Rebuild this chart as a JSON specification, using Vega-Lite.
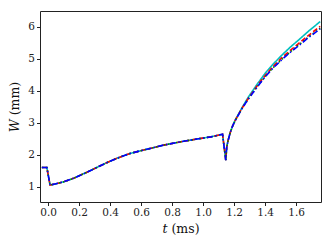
{
  "$schema": "https://vega.github.io/schema/vega-lite/v6.json",
  "autosize": "none",
  "width": 281,
  "height": 191,
  "padding": {"left": 40, "top": 11, "right": 11, "bottom": 47},
  "background": "white",
  "config": {
    "view": {"stroke": "#222", "strokeWidth": 1},
    "font": "DejaVu Serif",
    "axis": {
      "labelFont": "DejaVu Serif",
      "titleFont": "DejaVu Serif",
      "labelFontSize": 10.5,
      "titleFontSize": 12.5,
      "labelColor": "#222",
      "titleColor": "#111",
      "titleFontWeight": "normal",
      "grid": false,
      "domain": false,
      "tickColor": "#222",
      "tickSize": 3.5,
      "labelPadding": 2
    }
  },
  "datasets": {
    "d": [
      {"s": "c", "t": -0.04, "W": 1.6}, {"s": "c", "t": -0.008, "W": 1.6}, {"s": "c", "t": 0.013, "W": 1.05}, {"s": "c", "t": 0.05, "W": 1.09}, {"s": "c", "t": 0.1, "W": 1.15}, {"s": "c", "t": 0.163, "W": 1.26}, {"s": "c", "t": 0.25, "W": 1.45}, {"s": "c", "t": 0.378, "W": 1.75}, {"s": "c", "t": 0.45, "W": 1.9}, {"s": "c", "t": 0.529, "W": 2.04}, {"s": "c", "t": 0.594, "W": 2.12}, {"s": "c", "t": 0.67, "W": 2.21}, {"s": "c", "t": 0.744, "W": 2.3}, {"s": "c", "t": 0.85, "W": 2.4}, {"s": "c", "t": 0.959, "W": 2.49}, {"s": "c", "t": 1.05, "W": 2.56}, {"s": "c", "t": 1.125, "W": 2.64}, {"s": "c", "t": 1.146, "W": 1.83}, {"s": "c", "t": 1.152, "W": 2.23}, {"s": "c", "t": 1.16, "W": 2.43}, {"s": "c", "t": 1.175, "W": 2.7}, {"s": "c", "t": 1.19, "W": 2.9}, {"s": "c", "t": 1.206, "W": 3.08}, {"s": "c", "t": 1.25, "W": 3.47}, {"s": "c", "t": 1.292, "W": 3.81}, {"s": "c", "t": 1.35, "W": 4.22}, {"s": "c", "t": 1.4, "W": 4.55}, {"s": "c", "t": 1.45, "W": 4.83}, {"s": "c", "t": 1.508, "W": 5.12}, {"s": "c", "t": 1.56, "W": 5.36}, {"s": "c", "t": 1.615, "W": 5.59}, {"s": "c", "t": 1.68, "W": 5.87}, {"s": "c", "t": 1.755, "W": 6.17},

      {"s": "r", "t": -0.04, "W": 1.6}, {"s": "r", "t": -0.008, "W": 1.6}, {"s": "r", "t": 0.013, "W": 1.05}, {"s": "r", "t": 0.05, "W": 1.09}, {"s": "r", "t": 0.1, "W": 1.15}, {"s": "r", "t": 0.163, "W": 1.26}, {"s": "r", "t": 0.25, "W": 1.45}, {"s": "r", "t": 0.378, "W": 1.75}, {"s": "r", "t": 0.45, "W": 1.9}, {"s": "r", "t": 0.529, "W": 2.04}, {"s": "r", "t": 0.594, "W": 2.12}, {"s": "r", "t": 0.67, "W": 2.21}, {"s": "r", "t": 0.744, "W": 2.3}, {"s": "r", "t": 0.85, "W": 2.4}, {"s": "r", "t": 0.959, "W": 2.49}, {"s": "r", "t": 1.05, "W": 2.56}, {"s": "r", "t": 1.125, "W": 2.64}, {"s": "r", "t": 1.146, "W": 1.83}, {"s": "r", "t": 1.152, "W": 2.23}, {"s": "r", "t": 1.16, "W": 2.43}, {"s": "r", "t": 1.175, "W": 2.7}, {"s": "r", "t": 1.19, "W": 2.9}, {"s": "r", "t": 1.206, "W": 3.07}, {"s": "r", "t": 1.25, "W": 3.45}, {"s": "r", "t": 1.292, "W": 3.77}, {"s": "r", "t": 1.35, "W": 4.17}, {"s": "r", "t": 1.4, "W": 4.48}, {"s": "r", "t": 1.45, "W": 4.76}, {"s": "r", "t": 1.508, "W": 5.04}, {"s": "r", "t": 1.56, "W": 5.26}, {"s": "r", "t": 1.615, "W": 5.48}, {"s": "r", "t": 1.68, "W": 5.74}, {"s": "r", "t": 1.755, "W": 6.02},

      {"s": "g", "t": -0.04, "W": 1.6}, {"s": "g", "t": -0.008, "W": 1.6}, {"s": "g", "t": 0.013, "W": 1.05}, {"s": "g", "t": 0.05, "W": 1.09}, {"s": "g", "t": 0.1, "W": 1.15}, {"s": "g", "t": 0.163, "W": 1.26}, {"s": "g", "t": 0.25, "W": 1.45}, {"s": "g", "t": 0.378, "W": 1.75}, {"s": "g", "t": 0.45, "W": 1.9}, {"s": "g", "t": 0.529, "W": 2.04}, {"s": "g", "t": 0.594, "W": 2.12}, {"s": "g", "t": 0.67, "W": 2.21}, {"s": "g", "t": 0.744, "W": 2.3}, {"s": "g", "t": 0.85, "W": 2.4}, {"s": "g", "t": 0.959, "W": 2.49}, {"s": "g", "t": 1.05, "W": 2.56}, {"s": "g", "t": 1.125, "W": 2.64}, {"s": "g", "t": 1.146, "W": 1.83}, {"s": "g", "t": 1.152, "W": 2.23}, {"s": "g", "t": 1.16, "W": 2.43}, {"s": "g", "t": 1.175, "W": 2.7}, {"s": "g", "t": 1.19, "W": 2.9}, {"s": "g", "t": 1.206, "W": 3.06}, {"s": "g", "t": 1.25, "W": 3.44}, {"s": "g", "t": 1.292, "W": 3.75}, {"s": "g", "t": 1.35, "W": 4.14}, {"s": "g", "t": 1.4, "W": 4.45}, {"s": "g", "t": 1.45, "W": 4.72}, {"s": "g", "t": 1.508, "W": 4.99}, {"s": "g", "t": 1.56, "W": 5.21}, {"s": "g", "t": 1.615, "W": 5.43}, {"s": "g", "t": 1.68, "W": 5.69}, {"s": "g", "t": 1.755, "W": 5.96},

      {"s": "b", "t": -0.04, "W": 1.6}, {"s": "b", "t": -0.008, "W": 1.6}, {"s": "b", "t": 0.013, "W": 1.05}, {"s": "b", "t": 0.05, "W": 1.09}, {"s": "b", "t": 0.1, "W": 1.15}, {"s": "b", "t": 0.163, "W": 1.26}, {"s": "b", "t": 0.25, "W": 1.45}, {"s": "b", "t": 0.378, "W": 1.75}, {"s": "b", "t": 0.45, "W": 1.9}, {"s": "b", "t": 0.529, "W": 2.04}, {"s": "b", "t": 0.594, "W": 2.12}, {"s": "b", "t": 0.67, "W": 2.21}, {"s": "b", "t": 0.744, "W": 2.3}, {"s": "b", "t": 0.85, "W": 2.4}, {"s": "b", "t": 0.959, "W": 2.49}, {"s": "b", "t": 1.05, "W": 2.56}, {"s": "b", "t": 1.125, "W": 2.64}, {"s": "b", "t": 1.146, "W": 1.83}, {"s": "b", "t": 1.152, "W": 2.23}, {"s": "b", "t": 1.16, "W": 2.43}, {"s": "b", "t": 1.175, "W": 2.7}, {"s": "b", "t": 1.19, "W": 2.9}, {"s": "b", "t": 1.206, "W": 3.06}, {"s": "b", "t": 1.25, "W": 3.44}, {"s": "b", "t": 1.292, "W": 3.75}, {"s": "b", "t": 1.35, "W": 4.13}, {"s": "b", "t": 1.4, "W": 4.44}, {"s": "b", "t": 1.45, "W": 4.71}, {"s": "b", "t": 1.508, "W": 4.98}, {"s": "b", "t": 1.56, "W": 5.2}, {"s": "b", "t": 1.615, "W": 5.41}, {"s": "b", "t": 1.68, "W": 5.67}, {"s": "b", "t": 1.755, "W": 5.94}
    ]
  },
  "data": {"name": "d"},
  "mark": {"type": "line", "strokeWidth": 1.6, "clip": true},
  "encoding": {
    "x": {
      "field": "t", "type": "quantitative",
      "scale": {"domain": [-0.052, 1.76], "nice": false, "zero": false},
      "axis": {"title": "𝑡 (ms)", "values": [0, 0.2, 0.4, 0.6, 0.8, 1.0, 1.2, 1.4, 1.6], "format": ".1f", "titlePadding": 4}
    },
    "y": {
      "field": "W", "type": "quantitative",
      "scale": {"domain": [0.52, 6.5], "nice": false, "zero": false},
      "axis": {"title": "𝑊 (mm)", "values": [1, 2, 3, 4, 5, 6], "format": "d", "titlePadding": 6}
    },
    "color": {
      "field": "s", "type": "nominal", "legend": null,
      "scale": {"domain": ["c", "r", "g", "b"], "range": ["#00BFBF", "#FF0000", "#008000", "#0000FF"]}
    },
    "strokeDash": {
      "field": "s", "type": "nominal", "legend": null,
      "scale": {"domain": ["c", "r", "g", "b"], "range": [[1, 0], [5, 2.5], [1.5, 2.5], [6, 2.5, 1.5, 2.5]]}
    },
    "order": {"field": "t", "type": "quantitative"}
  }
}
